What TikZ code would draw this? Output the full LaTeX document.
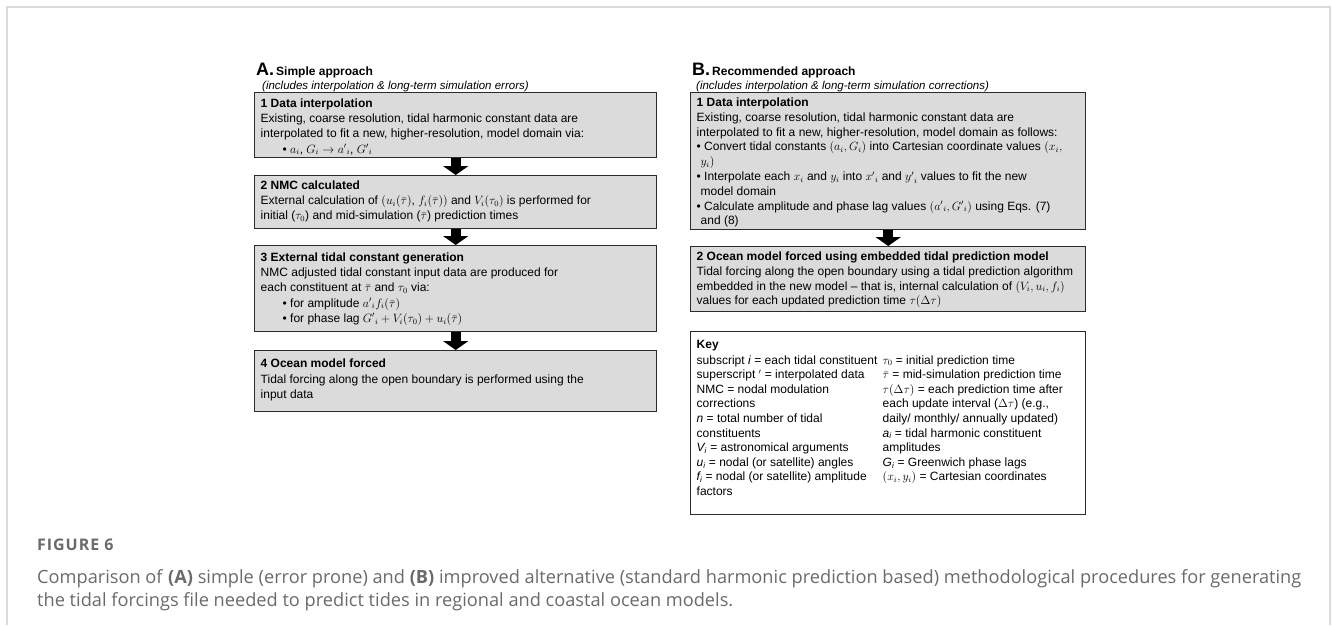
\documentclass[tikz,border=0pt]{standalone}
\usepackage{fontspec}
\setmainfont{Liberation Sans}
\newfontfamily\capfont{Open Sans}
\usetikzlibrary{arrows.meta}
\definecolor{boxfill}{HTML}{DBDBDB}
\definecolor{boxline}{HTML}{2B2B2B}
\definecolor{capgray}{HTML}{6A6A6A}
\definecolor{framegray}{HTML}{DADADA}
\newcommand{\bxt}[3]{\parbox[t][#1][t]{#2}{\raggedright #3}}
\begin{document}
\begin{tikzpicture}[x=1pt,y=-1pt,font=\fontsize{12}{14.8}\selectfont,
  stepbox/.style={draw=boxline,line width=1.4pt,fill=boxfill,anchor=north west,inner xsep=6pt,inner ysep=3pt},
  keybox/.style={stepbox,fill=white},
  barrow/.style={line width=10pt,-{Triangle[width=25pt,length=9pt]},black},
  hdr/.style={anchor=base west,inner sep=0pt},
  sub/.style={anchor=base west,inner sep=0pt,font=\fontsize{11.5}{14}\selectfont\itshape}]
\useasboundingbox (0,0) rectangle (1333,625);
\draw[framegray,line width=1.5pt] (7,625) -- (7,7) -- (1330,7) -- (1330,625);

% headers
\node[hdr] (ha) at (256,75) {{\fontsize{18}{20}\selectfont\bfseries A.}\,{\fontsize{12}{14}\selectfont\bfseries Simple approach}};
\node[sub] (hsa) at (262,89) {(includes interpolation \& long-term simulation errors)};
\node[hdr] (hb) at (692,75) {{\fontsize{18}{20}\selectfont\bfseries B.}\,{\fontsize{12}{14}\selectfont\bfseries Recommended approach}};
\node[sub] (hsb) at (696,89) {(includes interpolation \& long-term simulation corrections)};

% column A
\node[stepbox] (a1) at (254,92) {\bxt{59pt}{390pt}{\fontsize{12}{15.2}\selectfont\vspace*{3pt}\textbf{1 Data interpolation}\\
Existing, coarse resolution, tidal harmonic constant data are\\
interpolated to fit a new, higher-resolution, model domain via:\\
\hspace*{22pt}• $a_i$, $G_i\rightarrow {a'}_i$, ${G'}_i$}};
\node[stepbox] (a2) at (254,175) {\bxt{47pt}{390pt}{\fontsize{12}{15}\selectfont\vspace*{2pt}\textbf{2 NMC calculated}\\
External calculation of $(u_i(\bar\tau)$, $f_i(\bar\tau))$ and $V_i(\tau_0)$ is performed for\\
initial ($\tau_0$) and mid-simulation ($\bar\tau$) prediction times}};
\node[stepbox] (a3) at (254,245) {\bxt{80pt}{390pt}{\fontsize{12}{15.2}\selectfont\vspace*{4pt}\textbf{3 External tidal constant generation}\\
NMC adjusted tidal constant input data are produced for\\
each constituent at $\bar\tau$ and $\tau_0$ via:\\
\hspace*{22pt}• for amplitude ${a'}_i f_i(\bar\tau)$\\
\hspace*{22pt}• for phase lag ${G'}_i+V_i(\tau_0)+u_i(\bar\tau)$}};
\node[stepbox] (a4) at (254,350) {\bxt{55pt}{390pt}{\fontsize{12}{15.6}\selectfont\vspace*{5pt}\textbf{4 Ocean model forced}\\
Tidal forcing along the open boundary is performed using the\\
input data}};

% column B
\node[stepbox] (b1) at (690,92) {\bxt{131pt}{383pt}{\vspace*{2pt}\textbf{1 Data interpolation}\\
Existing, coarse resolution, tidal harmonic constant data are\\
interpolated to fit a new, higher-resolution, model domain as follows:\\
• Convert tidal constants $(a_i, G_i)$ into Cartesian coordinate values $(x_i,$\\
\hspace*{4pt}$y_i)$\\
• Interpolate each $x_i$ and $y_i$ into ${x'}_i$ and ${y'}_i$ values to fit the new\\
\hspace*{4pt}model domain\\
• Calculate amplitude and phase lag values $({a'}_i, {G'}_i)$ using Eqs. (7)\\
\hspace*{4pt}and (8)}};
\node[stepbox] (b2) at (690,246) {\bxt{59pt}{383pt}{\vspace*{2pt}\textbf{2 Ocean model forced using embedded tidal prediction model}\\
Tidal forcing along the open boundary using a tidal prediction algorithm\\
embedded in the new model -- that is, internal calculation of $(V_i, u_i, f_i)$\\
values for each updated prediction time $\tau(\Delta\tau)$}};
\node[keybox] (key) at (690,331) {\bxt{177pt}{383pt}{\fontsize{12}{14.6}\selectfont\vspace*{6pt}\textbf{Key}\\[0.5pt]
\parbox[t]{186pt}{\raggedright
subscript \textit{i} = each tidal constituent\\
superscript $'$ = interpolated data\\
NMC = nodal modulation\\
corrections\\
\textit{n} = total number of tidal\\
constituents\\
\textit{V\textsubscript{i}} = astronomical arguments\\
\textit{u\textsubscript{i}} = nodal (or satellite) angles\\
\textit{f\textsubscript{i}} = nodal (or satellite) amplitude\\
factors}\parbox[t]{197pt}{\raggedright
$\tau_0$ = initial prediction time\\
$\bar\tau$ = mid-simulation prediction time\\
$\tau(\Delta\tau)$ = each prediction time after\\
each update interval ($\Delta\tau$) (e.g.,\\
daily/ monthly/ annually updated)\\
\textit{a\textsubscript{i}} = tidal harmonic constituent\\
amplitudes\\
\textit{G\textsubscript{i}} = Greenwich phase lags\\
$(x_i, y_i)$ = Cartesian coordinates}}};

% arrows
\draw[barrow] (a1.south) -- (a2.north);
\draw[barrow] (a2.south) -- (a3.north);
\draw[barrow] (a3.south) -- (a4.north);
\draw[barrow] (b1.south) -- (b2.north);

% caption
\node[hdr,font=\capfont\fontsize{16}{18}\selectfont\bfseries\addfontfeature{LetterSpace=6},text=capgray] (fig) at (37,550) {FIGURE 6};
\node[hdr,font=\capfont\fontsize{18.2}{22}\selectfont,text=capgray] (cap1) at (37,583) {Comparison of \textbf{(A)} simple (error prone) and \textbf{(B)} improved alternative (standard harmonic prediction based) methodological procedures for generating};
\node[hdr,font=\capfont\fontsize{18.2}{22}\selectfont,text=capgray] (cap2) at (37,606) {the tidal forcings file needed to predict tides in regional and coastal ocean models.};
\end{tikzpicture}
\end{document}
